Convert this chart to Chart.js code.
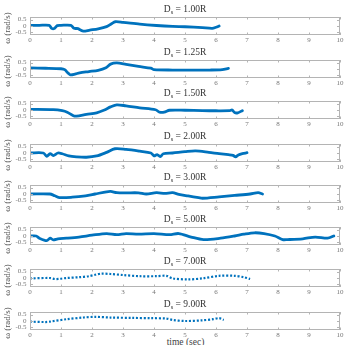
<!DOCTYPE html>
<html>
<head>
<meta charset="utf-8">
<script src="https://cdn.jsdelivr.net/npm/chart.js@4.4.1/dist/chart.umd.min.js"></script>
<style>
  html, body { margin: 0; padding: 0; background: #fff; }
  #wrap { position: relative; width: 347px; height: 345px; overflow: hidden; }
  #wrap canvas { position: absolute; left: 0; }
  #xlab { position: absolute; left: 30px; width: 311px; top: 337px; line-height: 10px; text-align: center;
          font: 9.5px "Liberation Serif", serif; color: #444; }
</style>
</head>
<body>
<div id="wrap">
  <div id="xlab">time (sec)</div>
</div>
<script>
// angular velocity traces, one subplot per separation distance
const panelNames = ['1.00R', '1.25R', '1.50R', '2.00R', '3.00R', '5.00R', '7.00R', '9.00R'];
const xTicks = [0, 1, 2, 3, 4, 5, 6, 7, 8, 9, 10];
const yTicks = [-0.5, 0, 0.5];

const t100 = [0, 0.3, 0.62, 0.7, 0.78, 0.88, 1.0, 1.32, 1.42, 1.55, 1.62, 1.72, 1.93, 2.2, 2.47, 2.63, 2.75, 3.0, 3.54, 4.08, 4.6, 5.0, 5.56, 5.88, 6.0, 6.1];
const w100 = [0.05, 0.05, 0.05, -0.18, -0.2, 0.03, 0.05, 0.05, -0.18, -0.2, -0.3, -0.4, -0.32, -0.22, -0.05, 0.18, 0.33, 0.28, 0.14, 0.04, -0.03, -0.06, -0.13, -0.18, -0.1, 0.0];

const t125 = [0, 0.5, 1.0, 1.12, 1.22, 1.3, 1.45, 1.6, 1.9, 2.2, 2.45, 2.6, 2.8, 3.1, 3.5, 3.9, 4.0, 4.6, 5.2, 5.8, 6.2, 6.4];
const w125 = [0.08, 0.06, 0.02, -0.05, -0.3, -0.45, -0.4, -0.3, -0.2, -0.1, 0.1, 0.38, 0.47, 0.36, 0.2, 0.06, -0.05, -0.08, -0.08, -0.08, -0.05, 0.05];

const t150 = [0, 0.75, 1.04, 1.2, 1.4, 1.5, 1.82, 2.15, 2.4, 2.6, 2.8, 3.1, 3.54, 4.05, 4.18, 4.33, 4.5, 5.0, 5.56, 6.0, 6.45, 6.52, 6.6, 6.7, 6.85];
const w150 = [0.05, 0.03, -0.05, -0.17, -0.45, -0.48, -0.34, -0.22, 0.0, 0.24, 0.4, 0.32, 0.17, 0.02, -0.17, -0.17, -0.02, -0.02, -0.05, -0.06, -0.05, 0.0, -0.2, -0.22, -0.05];

const t200 = [0, 0.43, 0.54, 0.65, 0.75, 0.9, 1.04, 1.25, 1.5, 1.82, 2.15, 2.47, 2.74, 3.1, 3.54, 3.9, 4.0, 4.1, 4.2, 4.3, 4.6, 5.0, 5.34, 5.77, 6.1, 6.4, 6.55, 6.63, 6.72, 6.85, 7.0];
const w200 = [0.0, 0.0, -0.26, -0.05, -0.2, 0.0, -0.06, -0.23, -0.3, -0.33, -0.23, 0.05, 0.33, 0.28, 0.14, 0.0, -0.22, -0.12, -0.28, -0.06, 0.0, 0.1, 0.16, 0.05, -0.05, -0.13, -0.18, -0.3, -0.15, -0.05, 0.02];

const t300 = [0, 0.64, 0.8, 0.96, 1.36, 1.79, 2.1, 2.47, 2.6, 2.8, 3.1, 3.5, 3.75, 4.08, 4.35, 4.6, 4.8, 5.1, 5.44, 5.56, 6.1, 6.6, 7.1, 7.36, 7.5];
const w300 = [0.0, 0.0, -0.14, -0.28, -0.25, -0.14, 0.0, 0.17, 0.2, 0.11, 0.09, 0.09, 0.0, 0.1, 0.05, 0.1, -0.03, -0.15, -0.28, -0.33, -0.22, -0.11, 0.0, 0.1, 0.0];

const t500 = [0, 0.2, 0.3, 0.54, 0.65, 0.75, 0.9, 1.18, 1.58, 2.0, 2.47, 2.8, 3.1, 3.5, 4.0, 4.5, 4.8, 5.2, 5.6, 6.15, 6.6, 6.9, 7.24, 7.55, 7.9, 8.15, 8.3, 8.8, 9.2, 9.6, 9.8];
const w500 = [0.0, 0.0, -0.17, -0.36, -0.17, -0.3, -0.22, -0.17, -0.08, 0.06, 0.19, 0.11, 0.19, 0.14, 0.19, 0.11, 0.19, -0.08, -0.28, -0.17, 0.0, 0.14, 0.25, 0.19, 0.0, -0.28, -0.28, -0.22, -0.08, -0.17, 0.0];

const t700 = [0, 0.64, 0.8, 0.96, 1.18, 1.58, 1.9, 2.1, 2.3, 2.6, 3.0, 3.54, 4.08, 4.4, 4.6, 5.1, 5.56, 6.1, 6.6, 6.9, 7.1];
const w700 = [-0.03, 0.0, -0.08, -0.06, 0.0, 0.06, 0.14, 0.25, 0.34, 0.31, 0.23, 0.14, 0.14, 0.17, -0.03, -0.11, -0.03, 0.17, 0.17, 0.06, -0.08];

const t900 = [0, 0.5, 0.64, 1.18, 1.72, 2.1, 2.6, 3.3, 3.9, 4.4, 4.6, 5.0, 5.56, 5.9, 6.1, 6.25];
const w900 = [-0.05, -0.08, -0.05, 0.14, 0.27, 0.32, 0.27, 0.24, 0.22, 0.19, 0.08, 0.0, 0.05, 0.14, 0.22, 0.08];

const times = [t100, t125, t150, t200, t300, t500, t700, t900];
const omegas = [w100, w125, w150, w200, w300, w500, w700, w900];
const dotted = [false, false, false, false, false, false, true, true];

const boxTops = [17, 60, 101, 144, 185, 227, 269, 312];
const BOX_H = 18;
const PAD_TOP = 16;
const X_AX_H = 12;
const BLUE = '#0072BD';
const SERIF = '"Liberation Serif", "DejaVu Serif", serif';

// MATLAB-ish box, inward ticks, tick labels, subscripted title and y label
const axesDecor = {
  id: 'axesDecor',
  afterDraw(chart, args, opts) {
    const { ctx, chartArea: a, scales: { x, y } } = chart;
    ctx.save();
    ctx.strokeStyle = '#b4b4b4';
    ctx.lineWidth = 1;
    ctx.strokeRect(Math.round(a.left) + 0.5, Math.round(a.top) + 0.5,
      Math.round(a.right - a.left) - 1, Math.round(a.bottom - a.top) - 1);
    ctx.beginPath();
    for (const v of xTicks) {
      const px = Math.round(x.getPixelForValue(v)) + 0.5;
      ctx.moveTo(px, a.bottom); ctx.lineTo(px, a.bottom - 2.5);
      ctx.moveTo(px, a.top); ctx.lineTo(px, a.top + 2.5);
    }
    for (const v of yTicks) {
      const py = Math.round(y.getPixelForValue(v)) + 0.5;
      ctx.moveTo(a.left, py); ctx.lineTo(a.left + 3, py);
      ctx.moveTo(a.right, py); ctx.lineTo(a.right - 3, py);
    }
    ctx.stroke();

    // tick labels
    ctx.fillStyle = '#777';
    ctx.font = '7px ' + SERIF;
    ctx.textAlign = 'center';
    ctx.textBaseline = 'middle';
    for (const v of xTicks) ctx.fillText(String(v), x.getPixelForValue(v), a.bottom + 5.5);
    ctx.textAlign = 'right';
    for (const v of yTicks) ctx.fillText(String(v), a.left - 3.5, y.getPixelForValue(v));

    // title "D_s = 1.00R"
    ctx.fillStyle = '#333';
    ctx.textBaseline = 'alphabetic';
    ctx.textAlign = 'left';
    const big = '9.5px ' + SERIF, small = '6.5px ' + SERIF;
    const rest = ' = ' + opts.name;
    ctx.font = big; const wD = ctx.measureText('D').width, wR = ctx.measureText(rest).width;
    ctx.font = small; const wS = ctx.measureText('s').width;
    let cx = (a.left + a.right) / 2 - (wD + wS + wR) / 2;
    const base = a.top - 5;
    ctx.font = big; ctx.fillText('D', cx, base); cx += wD;
    ctx.font = small; ctx.fillText('s', cx, base + 2); cx += wS;
    ctx.font = big; ctx.fillText(rest, cx, base);

    // y label
    ctx.translate(8, (a.top + a.bottom) / 2 + 2);
    ctx.rotate(-Math.PI / 2);
    ctx.textAlign = 'center';
    ctx.textBaseline = 'middle';
    ctx.font = '9px ' + SERIF;
    ctx.fillStyle = '#555';
    ctx.fillText('\u03c9 (rad/s)', 0, 0);
    ctx.restore();
  }
};

const wrap = document.getElementById('wrap');
panelNames.forEach((name, i) => {
  const cv = document.createElement('canvas');
  cv.width = 347;
  cv.height = PAD_TOP + BOX_H + X_AX_H;
  cv.style.top = (boxTops[i] - PAD_TOP) + 'px';
  wrap.appendChild(cv);

  const pts = times[i].map((t, k) => ({ x: t, y: omegas[i][k] }));
  new Chart(cv, {
    type: 'line',
    data: {
      datasets: [{
        data: pts,
        borderColor: BLUE,
        borderWidth: dotted[i] ? 2.2 : 2.8,
        borderDash: dotted[i] ? [2, 1.8] : [],
        borderCapStyle: dotted[i] ? 'butt' : 'round',
        pointRadius: 0,
        tension: 0.3,
        fill: false,
      }],
    },
    options: {
      responsive: false,
      animation: false,
      devicePixelRatio: 1,
      layout: { padding: { top: PAD_TOP, right: 7, left: 0, bottom: 0 } },
      plugins: { legend: { display: false }, tooltip: { enabled: false }, axesDecor: { name } },
      scales: {
        x: {
          type: 'linear', min: 0, max: 10,
          grid: { display: false }, border: { display: false },
          ticks: { display: false },
          afterFit: (s) => { s.height = X_AX_H; },
        },
        y: {
          min: -0.7, max: 0.7,
          grid: { display: false }, border: { display: false },
          ticks: { display: false },
          afterFit: (s) => { s.width = 30; },
        },
      },
    },
    plugins: [axesDecor],
  });
});
</script>
</body>
</html>
